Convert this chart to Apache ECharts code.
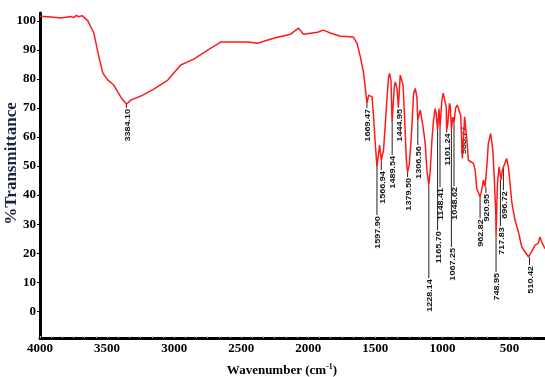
<!DOCTYPE html>
<html>
<head>
<meta charset="utf-8">
<script src="https://cdn.jsdelivr.net/npm/echarts@6/dist/echarts.min.js"></script>
<style>
  html, body { margin: 0; padding: 0; background: #fff; }
  #chart { width: 545px; height: 377px; }
</style>
</head>
<body>
<div id="chart"></div>
<script>
// espectro FTIR
const wavenumber = [4000, 3922, 3851, 3780, 3760, 3740, 3723, 3700, 3687, 3659, 3616, 3580, 3552, 3516, 3474, 3424, 3384, 3353, 3281, 3189, 3089, 2997, 2904, 2805, 2712, 2620, 2520, 2449, 2335, 2214, 2157, 2122, 2022, 1980, 1930, 1859, 1787, 1766, 1740, 1716, 1693, 1669, 1657, 1645, 1633, 1622, 1610, 1598, 1586, 1579, 1567, 1551, 1538, 1526, 1515, 1508, 1498, 1490, 1474, 1467, 1455, 1445, 1432, 1425, 1412, 1401, 1389, 1380, 1368, 1357, 1349, 1337, 1325, 1313, 1307, 1289, 1277, 1266, 1254, 1242, 1228, 1218, 1206, 1195, 1183, 1176, 1166, 1156, 1148, 1135, 1126, 1117, 1104, 1101, 1094, 1081, 1075, 1067, 1058, 1049, 1037, 1026, 1012, 1001, 989, 973, 957, 946, 934, 910, 898, 886, 875, 863, 851, 839, 827, 815, 804, 787, 772, 761, 751, 749, 739, 727, 720, 713, 704, 697, 685, 673, 661, 649, 637, 614, 590, 566, 542, 517, 510, 495, 471, 448, 436, 424, 400];
const transmittance = [101.6, 101.3, 101.0, 101.5, 101.1, 101.9, 101.4, 101.8, 101.2, 100.0, 95.8, 87.5, 82.0, 79.6, 77.9, 73.7, 71.3, 72.7, 74.1, 76.5, 79.6, 84.8, 86.8, 89.9, 92.7, 92.7, 92.7, 92.3, 94.0, 95.4, 97.5, 95.4, 96.1, 96.8, 95.8, 94.7, 94.5, 94.4, 92.2, 87.6, 81.9, 71.7, 74.4, 75.0, 73.8, 67.0, 57.8, 49.7, 54.4, 57.2, 52.0, 55.5, 64.7, 73.8, 80.7, 81.9, 79.6, 65.1, 77.3, 79.0, 76.7, 70.3, 81.3, 81.9, 77.9, 67.0, 52.7, 47.9, 50.3, 57.2, 63.5, 75.0, 76.7, 73.8, 65.8, 69.3, 65.8, 62.4, 57.8, 48.6, 43.4, 48.6, 58.9, 65.8, 69.8, 68.1, 62.4, 69.8, 63.4, 72.7, 75.1, 75.6, 70.4, 62.4, 64.1, 71.6, 70.6, 62.4, 66.8, 65.1, 70.0, 71.0, 70.4, 67.5, 52.7, 67.0, 58.9, 52.0, 51.5, 50.9, 48.6, 42.3, 42.3, 39.4, 41.7, 45.2, 42.9, 49.7, 57.8, 61.2, 55.5, 45.2, 33.8, 26.2, 44.1, 49.7, 50.3, 45.2, 48.6, 49.6, 51.0, 52.6, 49.7, 44.0, 37.7, 31.4, 27.4, 22.2, 20.4, 18.7, 18.6, 20.5, 22.8, 23.4, 25.6, 23.9, 21.6];

// picos marcados (peakWn = posicion en el eje, peakT = fondo del pico, labelT = inicio del texto)
const peakText = ['3384.10', '1669.47', '1597.90', '1566.94', '1489.54', '1444.95', '1379.50', '1306.56', '1228.14', '1165.70', '1148.41', '1101.24', '1067.25', '1048.62', '988.77', '962.82', '920.95', '748.95', '717.83', '696.72', '510.42'];
const peakWn = [3384.10, 1669.47, 1597.90, 1566.94, 1489.54, 1444.95, 1379.50, 1306.56, 1228.14, 1165.70, 1148.41, 1101.24, 1067.25, 1048.62, 988.77, 862.82, 820.95, 748.95, 717.83, 696.72, 510.42];
const peakT = [71.3, 71.7, 49.7, 52.0, 65.1, 70.3, 47.9, 65.8, 43.4, 62.4, 63.4, 62.4, 62.4, 65.1, 52.7, 39.4, 42.9, 26.2, 45.2, 49.6, 18.6];
const labelT = [70.0, 70.0, 33.1, 48.6, 53.8, 70.0, 46.2, 57.2, 11.4, 27.9, 42.8, 61.6, 22.1, 43.1, 53.8, 32.0, 40.7, 13.5, 29.3, 41.7, 15.9];

// ejes
const xTickLabels = [4000, 3500, 3000, 2500, 2000, 1500, 1000, 500];
const yTickLabels = [0, 10, 20, 30, 40, 50, 60, 70, 80, 90, 100];

const minorTicks = [];
for (let v = 4000; v >= 300; v -= 500 / 6) minorTicks.push(v);

const serif = "'Liberation Serif', 'Times New Roman', serif";

const chart = echarts.init(document.getElementById('chart'));

chart.setOption({
  animation: false,
  grid: { left: 40, right: 0, top: 13, bottom: 39, containLabel: false, outerBoundsMode: 'none' },
  xAxis: [
    {
      type: 'value', min: 400, max: 4000, inverse: true, show: false
    },
    {
      type: 'value', min: 235, max: 4000, inverse: true, position: 'bottom',
      axisLine: { show: true, lineStyle: { color: '#000', width: 3 } },
      axisTick: { show: true, inside: true, length: 2, customValues: minorTicks, lineStyle: { color: '#bbb' } },
      axisLabel: {
        customValues: xTickLabels, margin: 4, color: '#000',
        fontFamily: serif, fontWeight: 'bold', fontSize: 13,
        formatter: v => String(v)
      },
      splitLine: { show: false },
      name: '{a|Wavenumber (cm}{b|-1}{a|)}',
      nameLocation: 'middle',
      nameGap: 25,
      nameMoveOverlap: false,
      nameTextStyle: {
        padding: [0, 21, 0, 0],
        rich: {
          a: { fontFamily: serif, fontWeight: 'bold', fontSize: 13, color: '#000', lineHeight: 15 },
          b: { fontFamily: serif, fontWeight: 'bold', fontSize: 8, color: '#000', verticalAlign: 'top', lineHeight: 8 }
        }
      }
    }
  ],
  yAxis: {
    type: 'value', min: -9.2, max: 102.7,
    axisLine: { show: true, lineStyle: { color: '#000', width: 3 } },
    axisTick: { show: true, length: 3, customValues: yTickLabels, lineStyle: { color: '#000' } },
    axisLabel: {
      customValues: yTickLabels, margin: 4, color: '#000',
      fontFamily: serif, fontWeight: 'bold', fontSize: 13,
      formatter: v => String(v)
    },
    splitLine: { show: false },
    name: '%Transmittance',
    nameLocation: 'middle',
    nameGap: 20,
    nameMoveOverlap: false,
    nameTextStyle: {
      fontFamily: serif, fontWeight: 'bold', fontSize: 17, color: '#1c2340',
      padding: [0, 0, 0, 24]
    }
  },
  series: [
    {
      type: 'line',
      xAxisIndex: 0,
      data: wavenumber.map((w, i) => [w, transmittance[i]]),
      showSymbol: false,
      smooth: false,
      lineStyle: { color: '#ff1a1a', width: 1.5 }
    },
    {
      type: 'custom',
      xAxisIndex: 0,
      data: peakWn.map((w, i) => [w, peakT[i], labelT[i]]),
      renderItem: function (params, api) {
        const p0 = api.coord([api.value(0), api.value(1)]);
        const p1 = api.coord([api.value(0), api.value(2)]);
        // texto hacia abajo salvo si la etiqueta queda por encima del pico
        const up = api.value(2) > api.value(1);
        return {
          type: 'group',
          children: [
            {
              type: 'line',
              shape: { x1: p0[0], y1: p0[1], x2: p1[0], y2: p1[1] },
              style: { stroke: '#222', lineWidth: 1 }
            },
            {
              type: 'text',
              x: p1[0] + 1.5,
              y: up ? p1[1] - 1 : p1[1] + 1,
              rotation: Math.PI / 2,
              scaleY: 0.7,
              style: {
                text: peakText[params.dataIndex],
                align: up ? 'left' : 'right',
                verticalAlign: 'middle',
                font: "bold 9px 'Liberation Sans', Arial, sans-serif",
                fill: '#111'
              }
            }
          ]
        };
      }
    }
  ]
});
</script>
</body>
</html>
